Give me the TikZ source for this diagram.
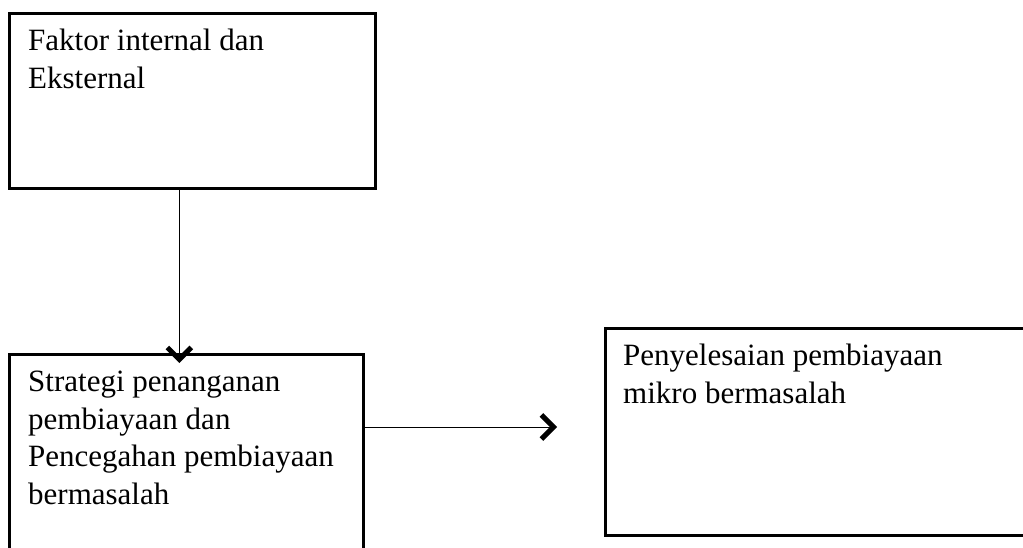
\documentclass[tikz,border=0pt]{standalone}
\usepackage{fontspec}
\setmainfont{Liberation Serif}
\usetikzlibrary{arrows.meta,positioning}

\begin{document}
\begin{tikzpicture}[x=1pt, y=-1pt,
  box/.style={draw, line width=2.6pt, inner sep=0pt, anchor=north west},
  txt/.style={align=left, inner sep=0pt, anchor=north west, font=\fontsize{31}{37.5}\selectfont},
  arr/.style={line width=1pt, -{Straight Barb[length=12pt, width=24pt, line width=5pt]}}]
  \useasboundingbox (0,0) rectangle (1023,548);
  \clip (0,0) rectangle (1023,548);

  \node[box, minimum width=366pt, minimum height=175pt] (faktor) at (8,12) {};
  \node[txt] (faktortxt) at (28,29) {Faktor internal dan\\Eksternal};

  \node[box, minimum width=354pt, minimum height=215pt] (strategi) at (8,353) {};
  \node[txt] (strategitxt) at (28,371) {Strategi penanganan\\pembiayaan dan\\Pencegahan pembiayaan\\bermasalah};

  \node[box, minimum width=440pt, minimum height=207pt] (selesai) at (604,327) {};
  \node[txt] (selesaitxt) at (623,344) {Penyelesaian pembiayaan\\mikro bermasalah};

  \coordinate (tip) at (557,427);
  \draw[arr] ([xshift=-13pt]faktor.south) -- ([xshift=-13pt]faktor.south |- 0,363);
  \draw[arr] (strategi.east |- tip) -- (tip);
\end{tikzpicture}
\end{document}
